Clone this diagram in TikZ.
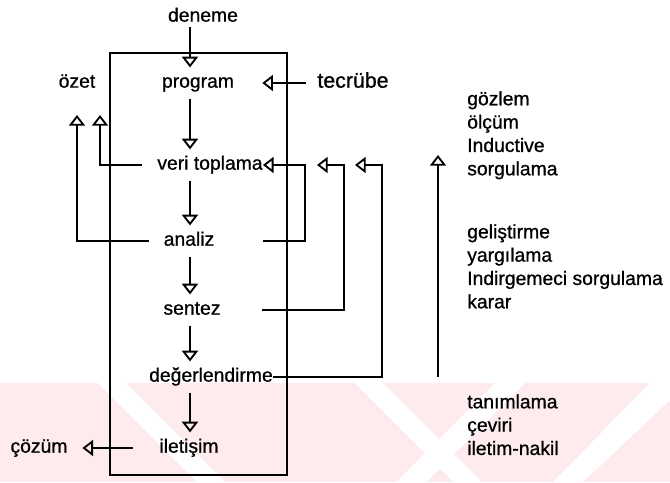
\documentclass[tikz,border=0pt]{standalone}
\usepackage{fontspec}
\setmainfont{Liberation Sans}
\newfontfamily\scanfont{Liberation Sans}[FakeBold=0.8]
\usetikzlibrary{arrows.meta,positioning}
\definecolor{wmpink}{HTML}{FDEBEE}

\begin{document}
\begin{tikzpicture}[x=0.75pt,y=-0.75pt,>={Triangle[open,length=8pt,width=12pt]},
  lbl/.style={inner sep=0pt,text height=9pt,text depth=2pt,font=\scanfont\fontsize{14.5}{17}\selectfont},
  grp/.style={inner sep=0pt,anchor=north west,align=left,font=\scanfont\fontsize{14.5}{17.5}\selectfont},
  flow/.style={->,line width=1.4pt,shorten <=6pt,shorten >=6pt},
  wire/.style={->,line width=1.4pt}]
\useasboundingbox (0,0) rectangle (670,482);
% watermark band
\fill[wmpink] (0,383) rectangle (670,482);
\fill[white] (98,383) -- (126,383) -- (225,482) -- (197,482) -- cycle;
\fill[white] (355,383) -- (383,383) -- (482,482) -- (454,482) -- cycle;
\fill[white] (495,383) -- (525,383) -- (426,482) -- (396,482) -- cycle;
\fill[white] (650,383) -- (670,383) -- (670,400) -- (583,482) -- (553,482) -- cycle;
% frame
\draw[line width=1.4pt] (110,53) rectangle (287,475);
% main column
\node[lbl] (deneme) at (203,17) {deneme};
\node[lbl] (program) at (198,83) {program};
\node[lbl] (veri) at (210,165) {veri toplama};
\node[lbl] (analiz) at (189,241) {analiz};
\node[lbl] (sentez) at (192,310) {sentez};
\node[lbl] (deger) at (211,377) {değerlendirme};
\node[lbl] (iletisim) at (189,448) {iletişim};
\coordinate (col) at (190,0);
% side labels
\node[lbl] (ozet) at (77,83) {özet};
\node[lbl,font=\scanfont\fontsize{16}{19}\selectfont] (tecrube) at (353,83) {tecrübe};
\node[lbl] (cozum) at (39,448) {çözüm};
\node[grp] (grpA) at (467,91) {gözlem\\ölçüm\\Inductive\\sorgulama};
\node[grp] (grpB) at (467,224) {geliştirme\\yargılama\\Indirgemeci sorgulama\\karar};
\node[grp] (grpC) at (467,394) {tanımlama\\çeviri\\iletim-nakil};
% bends and free ends
\coordinate (sumA) at (100,115);
\coordinate (sumB) at (77,115);
\coordinate (busA) at (305,165);
\coordinate (busB) at (344,165);
\coordinate (busC) at (382,165);
\coordinate (tipB) at (317,165);
\coordinate (tipC) at (355,165);
\coordinate (riseLo) at (438,377);
\coordinate (riseHi) at (438,155);
% arrows down the column
\draw[flow,shorten <=2pt] (deneme.south -| col) -- (program.north -| col);
\draw[flow] (program.south -| col) -- (veri.north -| col);
\draw[flow] (veri.south -| col) -- (analiz.north -| col);
\draw[flow] (analiz.south -| col) -- (sentez.north -| col);
\draw[flow] (sentez.south -| col) -- (deger.north -| col);
\draw[flow] (deger.south -| col) -- (iletisim.north -| col);
% feedback
\draw[flow,shorten <=8pt,shorten >=21pt] (tecrube.west) -- (program.east);
\draw[wire] ([xshift=-11pt]veri.west) -| (sumA);
\draw[wire] ([xshift=-11pt]analiz.west) -| (sumB);
\draw[wire] ([xshift=36pt]analiz.east) -| (busA) -- (veri.east);
\draw[wire] ([xshift=31pt]sentez.east) -| (busB) -- (tipB);
\draw[wire] (deger.east) -| (busC) -- (tipC);
\draw[flow,shorten <=20pt,shorten >=11pt] (iletisim.west) -- (cozum.east);
\draw[wire] (riseLo) -- (riseHi);
\end{tikzpicture}
\end{document}
